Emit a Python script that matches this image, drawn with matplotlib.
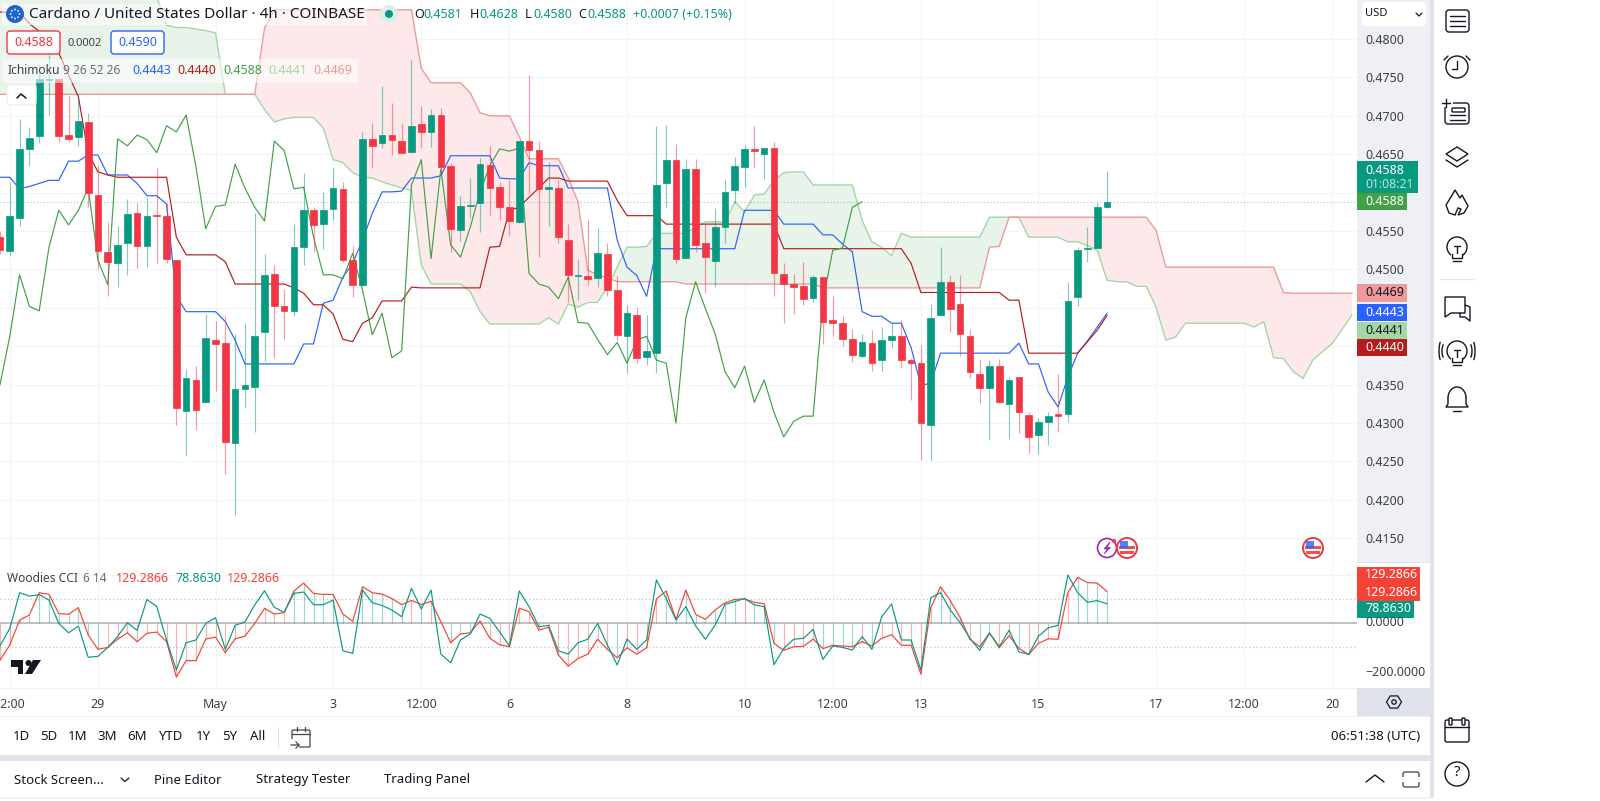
import matplotlib
matplotlib.use("Agg")
import matplotlib.pyplot as plt
import numpy as np
from matplotlib.patches import Circle, FancyBboxPatch, Polygon, Rectangle

plt.rcParams["font.family"] = ["Noto Sans", "DejaVu Sans"]

# candles
open_ = [
    .4542, .4524, .4567, .4657, .4674, .4747, .4748, .4675, .4672, .4692,
    .4597, .4523, .4508, .4534, .4573, .4530, .4571, .4570, .4512, .4316,
    .4356, .4327, .4408, .4404, .4274, .4344, .4347, .4418, .4494, .4452,
    .4446, .4529, .4577, .4559, .4579, .4605, .4512, .4480, .4670, .4665,
    .4675, .4667, .4653, .4689, .4679, .4701, .4635, .4551, .4582, .4587,
    .4636, .4607, .4581, .4562, .4667, .4655, .4605, .4606, .4538, .4492,
    .4492, .4489, .4520, .4473, .4413, .4441, .4386, .4391, .4613, .4643,
    .4515, .4631, .4535, .4511, .4555, .4603, .4634, .4657, .4650, .4658,
    .4494, .4481, .4479, .4463, .4490, .4434, .4430, .4409, .4387, .4404,
    .4382, .4408, .4413, .4382, .4378, .4298, .4441, .4484, .4455, .4413,
    .4364, .4346, .4374, .4325, .4360, .4310, .4284, .4302, .4312, .4312,
    .4464, .4527, .4528, .4581,
]
high = [
    .4550, .4612, .4696, .4685, .4768, .4779, .4748, .4727, .4725, .4704,
    .4636, .4562, .4556, .4592, .4586, .4594, .4632, .4586, .4512, .4370,
    .4374, .4442, .4433, .4441, .4416, .4430, .4573, .4520, .4506, .4474,
    .4559, .4626, .4581, .4601, .4632, .4614, .4530, .4679, .4691, .4739,
    .4717, .4691, .4773, .4713, .4709, .4710, .4639, .4595, .4619, .4645,
    .4661, .4614, .4617, .4667, .4753, .4667, .4640, .4617, .4559, .4514,
    .4566, .4554, .4535, .4492, .4454, .4451, .4441, .4687, .4688, .4663,
    .4644, .4644, .4560, .4580, .4618, .4646, .4662, .4687, .4658, .4666,
    .4508, .4494, .4510, .4493, .4490, .4465, .4439, .4422, .4416, .4421,
    .4425, .4430, .4434, .4385, .4402, .4455, .4529, .4493, .4493, .4422,
    .4383, .4382, .4383, .4360, .4360, .4314, .4306, .4314, .4364, .4484,
    .4529, .4555, .4586, .4628,
]
low = [
    .4520, .4517, .4557, .4635, .4664, .4701, .4666, .4666, .4661, .4581,
    .4500, .4466, .4477, .4493, .4502, .4503, .4509, .4509, .4298, .4257,
    .4291, .4327, .4342, .4234, .4180, .4320, .4288, .4381, .4385, .4408,
    .4440, .4506, .4523, .4527, .4564, .4510, .4464, .4479, .4632, .4658,
    .4649, .4652, .4653, .4658, .4659, .4623, .4523, .4537, .4567, .4549,
    .4571, .4564, .4543, .4560, .4600, .4516, .4557, .4535, .4458, .4460,
    .4480, .4477, .4465, .4408, .4365, .4378, .4376, .4365, .4580, .4508,
    .4515, .4523, .4469, .4477, .4535, .4586, .4607, .4632, .4618, .4465,
    .4430, .4442, .4454, .4457, .4403, .4413, .4400, .4380, .4385, .4368,
    .4368, .4398, .4372, .4330, .4252, .4252, .4441, .4418, .4387, .4359,
    .4325, .4278, .4326, .4279, .4287, .4261, .4260, .4271, .4288, .4301,
    .4452, .4510, .4528, .4580,
]
close = [
    .4525, .4570, .4657, .4671, .4748, .4748, .4674, .4670, .4693, .4600,
    .4524, .4510, .4532, .4572, .4530, .4570, .4570, .4514, .4320, .4359,
    .4317, .4411, .4403, .4275, .4344, .4350, .4413, .4493, .4452, .4446,
    .4529, .4577, .4558, .4577, .4606, .4512, .4480, .4670, .4661, .4675,
    .4669, .4652, .4687, .4679, .4701, .4634, .4553, .4582, .4584, .4637,
    .4606, .4581, .4563, .4667, .4655, .4605, .4607, .4542, .4493, .4493,
    .4488, .4521, .4473, .4415, .4443, .4385, .4394, .4610, .4643, .4514,
    .4631, .4532, .4516, .4555, .4601, .4635, .4657, .4654, .4658, .4495,
    .4481, .4477, .4462, .4490, .4431, .4430, .4409, .4389, .4405, .4378,
    .4408, .4413, .4382, .4378, .4300, .4437, .4484, .4449, .4416, .4367,
    .4346, .4374, .4327, .4356, .4314, .4282, .4302, .4309, .4309, .4459,
    .4525, .4528, .4581, .4588,
]

# ichimoku
conversion = [
    .4620, .4620, .4605, .4608, .4612, .4616, .4616, .4641, .4641, .4649,
    .4649, .4623, .4623, .4623, .4612, .4596, .4596, .4585, .4465, .4445,
    .4445, .4445, .4445, .4432, .4408, .4377, .4377, .4377, .4377, .4377,
    .4377, .4403, .4403, .4456, .4460, .4490, .4508, .4538, .4573, .4601,
    .4601, .4602, .4619, .4619, .4619, .4622, .4648, .4648, .4648, .4648,
    .4648, .4619, .4618, .4618, .4639, .4635, .4635, .4635, .4606, .4606,
    .4606, .4606, .4606, .4538, .4503, .4492, .4465, .4527, .4527, .4527,
    .4527, .4527, .4527, .4527, .4527, .4527, .4577, .4577, .4577, .4577,
    .4559, .4559, .4559, .4559, .4545, .4545, .4533, .4523, .4445, .4439,
    .4439, .4430, .4430, .4398, .4349, .4352, .4391, .4391, .4391, .4391,
    .4391, .4391, .4391, .4391, .4404, .4377, .4377, .4340, .4321, .4360,
    .4391, .4407, .4425, .4443,
]
base_line = [
    .4835, .4835, .4835, .4820, .4810, .4795, .4782, .4753, .4725, .4651,
    .4627, .4623, .4620, .4620, .4620, .4620, .4620, .4620, .4542, .4519,
    .4519, .4519, .4519, .4510, .4481, .4481, .4481, .4481, .4481, .4481,
    .4476, .4469, .4454, .4454, .4442, .4409, .4406, .4430, .4437, .4459,
    .4459, .4459, .4477, .4476, .4476, .4476, .4476, .4476, .4476, .4476,
    .4529, .4530, .4577, .4581, .4594, .4606, .4619, .4619, .4615, .4615,
    .4615, .4615, .4615, .4590, .4570, .4570, .4570, .4570, .4559, .4559,
    .4559, .4559, .4559, .4559, .4559, .4559, .4559, .4559, .4559, .4559,
    .4527, .4527, .4527, .4527, .4527, .4527, .4527, .4527, .4527, .4527,
    .4527, .4527, .4527, .4508, .4470, .4470, .4470, .4470, .4470, .4470,
    .4470, .4470, .4470, .4460, .4460, .4391, .4391, .4391, .4391, .4391,
    .4391, .4406, .4421, .4440,
]
lead_a = [
    .4900, .4900, .4900, .4900, .4900, .4900, .4900, .4900, .4900, .4900,
    .4900, .4895, .4890, .4885, .4880, .4870, .4855, .4818, .4815, .4815,
    .4813, .4811, .4808, .4728, .4728, .4728, .4728, .4708, .4692, .4696,
    .4698, .4698, .4698, .4684, .4643, .4639, .4626, .4620, .4619, .4614,
    .4610, .4606, .4603, .4506, .4481, .4481, .4481, .4481, .4471, .4445,
    .4429, .4429, .4429, .4429, .4429, .4429, .4437, .4429, .4455, .4451,
    .4457, .4457, .4477, .4503, .4529, .4529, .4530, .4547, .4547, .4547,
    .4547, .4555, .4562, .4562, .4562, .4588, .4575, .4597, .4598, .4616,
    .4626, .4627, .4627, .4610, .4610, .4610, .4610, .4610, .4564, .4536,
    .4529, .4518, .4547, .4542, .4542, .4542, .4542, .4542, .4542, .4542,
    .4542, .4568, .4568, .4568, .4568, .4542, .4542, .4542, .4542, .4536,
    .4536, .4531, .4525, .4486, .4484, .4484, .4478, .4478, .4451, .4408,
    .4412, .4430, .4430, .4430, .4430, .4430, .4430, .4430, .4425, .4432,
    .4385, .4384, .4367, .4358, .4382, .4393, .4404, .4422, .4441,
]
lead_b = [
    .4728, .4728, .4728, .4728, .4728, .4728, .4728, .4728, .4728, .4728,
    .4728, .4728, .4728, .4728, .4728, .4728, .4728, .4728, .4728, .4728,
    .4728, .4728, .4728, .4728, .4728, .4728, .4728, .4814, .4838, .4838,
    .4838, .4838, .4838, .4838, .4838, .4838, .4838, .4838, .4838, .4838,
    .4838, .4838, .4838, .4762, .4743, .4743, .4743, .4743, .4730, .4704,
    .4700, .4700, .4700, .4673, .4644, .4644, .4644, .4644, .4619, .4588,
    .4499, .4493, .4489, .4484, .4484, .4484, .4484, .4484, .4484, .4484,
    .4481, .4481, .4481, .4481, .4481, .4481, .4481, .4481, .4481, .4481,
    .4481, .4481, .4481, .4481, .4476, .4476, .4476, .4476, .4476, .4476,
    .4476, .4476, .4476, .4476, .4476, .4476, .4476, .4476, .4476, .4476,
    .4476, .4529, .4530, .4568, .4568, .4568, .4568, .4568, .4568, .4568,
    .4568, .4568, .4568, .4568, .4568, .4568, .4568, .4568, .4551, .4503,
    .4503, .4503, .4503, .4503, .4503, .4503, .4503, .4503, .4503, .4503,
    .4503, .4470, .4469, .4469, .4469, .4469, .4469, .4469, .4469,
]
lag_shift = 25

# woodies cci
cci_fast = [
    -96, -24, 125, 111, 117, 94, -3, -42, -14, -144,
    -140, -103, -58, 0, -32, 97, 67, -72, -197, -83,
    -72, -3, 21, -111, -11, 3, 74, 133, 64, 43,
    122, 128, 75, 75, 94, -117, -128, 136, 83, 72,
    53, 25, 143, 57, 136, -131, -167, -72, -47, 36,
    18, -38, -97, 132, 67, -17, -11, -117, -131, -83,
    -69, -3, -93, -176, -68, -111, -72, 178, 101, 11,
    67, -13, -69, -10, 76, 88, 101, 74, 67, -175,
    -107, -69, -65, -28, -153, -97, -103, -114, -58, -111,
    25, 78, -72, -72, -197, 104, 125, 53, 0, -65,
    -115, -44, -100, -31, -121, -132, -56, -21, -11, 199,
    125, 85, 92, 78.863,
]
cci_slow = [
    -156, -93, 11, 32, 125, 118, 38, 35, 63, -51,
    -111, -103, -69, -42, -79, -44, -39, -79, -226, -158,
    -158, -68, -60, -125, -67, -56, -3, 60, 36, 42,
    132, 165, 122, 118, 118, 36, 6, 150, 125, 119,
    101, 75, 93, 76, 89, 4, -83, -47, -42, 7,
    -65, -92, -100, 61, 46, -31, -19, -135, -181, -149,
    -131, -69, -111, -146, -104, -131, -104, 99, 132, 14,
    136, 35, 14, 53, 83, 97, 99, 85, 79, -86,
    -115, -100, -99, -68, -108, -94, -97, -100, -79, -97,
    -65, -50, -94, -94, -214, 62, 150, 92, 22, -69,
    -100, -42, -104, -54, -107, -132, -86, -67, -69, 126,
    189, 167, 165, 129.2866,
]

price_ticks = [.48, .475, .47, .465, .46, .455, .45, .445, .44, .435, .43, .425, .42, .415]
hidden_ticks = [.46, .445, .44]
cci_ticks = [0, -200]
time_idx = [1, 10, 22, 34, 43, 52, 64, 76, 85, 94, 106, 118, 127, 136]
time_labels = ["12:00", "29", "May", "3", "12:00", "6", "8", "10", "12:00", "13", "15", "17", "12:00", "20"]

UP = "#089981"
DOWN = "#F23645"
CONV = "#2962FF"
BASE = "#B71C1C"
LAG = "#43A047"
A_COL = "#A5D6A7"
B_COL = "#EF9A9A"
CCI_RED = "#F44336"
CCI_TEAL = "#089981"
GRID = "#F3F4F6"
TXT = "#131722"
AXTXT = "#3d4048"
PANEL = "#EFF0F5"
BAND = "#E0E3EB"

W, H = 1600, 801
fig = plt.figure(figsize=(W / 100, H / 100), dpi=100, facecolor="white")


def px_axes(x0, y0, x1, y1, z):
    return fig.add_axes([x0 / W, 1 - y1 / H, (x1 - x0) / W, (y1 - y0) / H], zorder=z)


bg = px_axes(0, 0, W, H, 0)
bg.set_xlim(0, W)
bg.set_ylim(H, 0)
bg.axis("off")
for x0, y0, x1, y1, c in [
    (1357, 0, 1430, 562, PANEL),
    (1357, 688, 1430, 716, "#DFE2EA"),
    (1430, 0, 1434, 797, BAND),
    (0, 562, 1430, 563, BAND),
    (0, 688, 1357, 689, "#F0F1F5"),
    (0, 716, 1430, 717, "#F0F1F5"),
    (0, 755, 1430, 761, BAND),
    (0, 797, 1434, 799, "#F0F1F5"),
]:
    bg.add_patch(Rectangle((x0, y0), x1 - x0, y1 - y0, fc=c, ec="none"))

# price pane
ax = px_axes(0, 0, 1357, 562, 1)
bars = np.arange(len(close))
opens = np.array(open_)
closes = np.array(close)
up = closes >= opens
a = np.array(lead_a)
b = np.array(lead_b)
cloud_x = np.arange(len(a))
ax.fill_between(cloud_x, a, b, where=a >= b, interpolate=True, color="#E8F3E9", lw=0, zorder=1)
ax.fill_between(cloud_x, a, b, where=a < b, interpolate=True, color="#FDE9E9", lw=0, zorder=1)
ax.plot(cloud_x, a, color=A_COL, lw=1, zorder=2)
ax.plot(cloud_x, b, color=B_COL, lw=1, zorder=2)
ax.axhline(close[-1], color=UP, lw=0.8, ls=(0, (1, 2)), alpha=0.45, zorder=2)
ax.plot(bars, conversion, color=CONV, lw=0.85, zorder=3)
ax.plot(bars, base_line, color=BASE, lw=0.85, zorder=3)
ax.plot(bars[:len(close) - lag_shift], close[lag_shift:], color=LAG, lw=0.85, zorder=3)
candle_col = [UP if u else DOWN for u in up]
ax.vlines(bars, low, high, colors=candle_col, lw=0.85, alpha=0.5, zorder=4)
ax.bar(bars, closes - opens, bottom=opens, width=0.68, color=candle_col, edgecolor=candle_col, lw=0.5, zorder=5)

ax.set_xlim(0, 1357 / 9.797)
ax.set_ylim(0.41191, 0.48508)
ax.set_yticks(price_ticks)
# these three sit behind the price labels in the picture
ax.set_yticklabels(["" if p in hidden_ticks else f"{p:.4f}" for p in price_ticks])
ax.yaxis.tick_right()
ax.tick_params(axis="y", length=0, pad=6, labelsize=9, labelcolor=AXTXT)
ax.set_xticks(time_idx)
ax.tick_params(axis="x", length=0, labelbottom=False)
ax.grid(True, color=GRID, lw=0.8)
ax.set_axisbelow(True)
for s in ax.spines.values():
    s.set_visible(False)

# cci pane
cx = px_axes(0, 562, 1357, 688, 1)
fast = np.array(cci_fast)
slow = np.array(cci_slow)
hist_col = [CCI_TEAL if s > f else CCI_RED for s, f in zip(slow, fast)]
cx.vlines(bars, 0, slow, colors=hist_col, lw=0.85, alpha=0.4, zorder=2)
cx.axhline(0, color="#B2B5BE", lw=1.2, zorder=1)
cx.axhline(100, color="#C4C6CC", lw=0.9, ls=(0, (1, 2)), zorder=1)
cx.axhline(-100, color="#C4C6CC", lw=0.9, ls=(0, (1, 2)), zorder=1)
cx.plot(bars, slow, color=CCI_RED, lw=0.85, zorder=3)
cx.plot(bars, fast, color=CCI_TEAL, lw=0.85, zorder=3)
cx.set_xlim(0, 1357 / 9.797)
cx.set_ylim(-272, 252.9)
cx.set_yticks(cci_ticks)
cx.set_yticklabels(["", "\u2212200.0000"])
cx.yaxis.tick_right()
cx.tick_params(axis="y", length=0, pad=6, labelsize=9, labelcolor=AXTXT)
cx.set_yticks([200, -200], minor=True)
cx.tick_params(axis="y", which="minor", length=0)
cx.set_xticks(time_idx)
cx.set_xticklabels(time_labels)
cx.get_xticklabels()[2].set_fontweight("bold")
cx.tick_params(axis="x", length=0, pad=7, labelsize=9, labelcolor=AXTXT)
cx.grid(True, axis="x", color=GRID, lw=0.8)
cx.grid(True, axis="y", which="minor", color=GRID, lw=0.8)
cx.set_axisbelow(True)
for s in cx.spines.values():
    s.set_visible(False)

# everything around the panes, in pixels
ui = px_axes(0, 0, W, H, 3)
ui.set_xlim(0, W)
ui.set_ylim(H, 0)
ui.axis("off")
ui.patch.set_alpha(0)


def txt(x, y, s, color=TXT, size=9, ha="left", **kw):
    ui.text(x, y, s, color=color, fontsize=size, ha=ha, va="center", **kw)


def box(x0, y0, x1, y1, fc="white", ec="none", lw=1, r=2, alpha=None, zorder=1):
    ui.add_patch(FancyBboxPatch((x0 + r, y0 + r), x1 - x0 - 2 * r, y1 - y0 - 2 * r,
                                boxstyle=f"round,pad={r}", fc=fc, ec=ec, lw=lw, alpha=alpha, zorder=zorder))


def line(xs, ys, color=TXT, lw=1.0):
    ui.plot(xs, ys, color=color, lw=lw, solid_capstyle="round")


def circ(x, y, r, fc="none", ec=TXT, lw=1.0, zorder=2):
    ui.add_patch(Circle((x, y), r, fc=fc, ec=ec, lw=lw, zorder=zorder))


# header
box(2, 4, 367, 25, fc="white", alpha=0.55, r=1)
box(2, 59, 358, 83, fc="white", alpha=0.55, r=1)
circ(15, 14, 9, fc="#1E62D0", ec="none")
for ang in np.arange(0, 2 * np.pi, np.pi / 4):
    circ(15 + 4.5 * np.cos(ang), 14 + 4.5 * np.sin(ang), 1, fc="#cfe0fa", ec="none", zorder=3)
txt(29, 14, "Cardano / United States Dollar \u00b7 4h \u00b7 COINBASE", size=11)
circ(389, 14, 9, fc="#DCEFEB", ec="none")
circ(389, 14, 4, fc=UP, ec="none", zorder=3)
for x, k, v in [(414, "O", "0.4581"), (470, "H", "0.4628"), (525, "L", "0.4580"), (578, "C", "0.4588")]:
    txt(x, 14, k, size=9)
    txt(x + (9 if k != "L" else 8), 14, v, color=UP, size=9)
txt(633, 14, "+0.0007 (+0.15%)", color=UP, size=9)

box(7, 31, 60, 54, ec="#F23645", r=3)
txt(33.5, 43, "0.4588", color=DOWN, ha="center")
txt(85, 43, "0.0002", color=AXTXT, size=8, ha="center")
box(111, 31, 164, 54, ec="#2962FF", r=3)
txt(137.5, 43, "0.4590", color=CONV, ha="center")

txt(7, 71, "Ichimoku", color=AXTXT, size=8.6)
txt(63, 71, "9 26 52 26", color="#6a6d78", size=8.6)
for x, v, c in [(132, "0.4443", CONV), (177, "0.4440", BASE), (223, "0.4588", LAG), (268, "0.4441", A_COL), (313, "0.4469", B_COL)]:
    txt(x, 71, v, color=c)
box(7, 85, 36, 105, ec="#F0F1F5", r=3)
line([17, 21, 26], [98, 94, 98], lw=1.1)

txt(7, 579, "Woodies CCI", color=AXTXT, size=8.6)
txt(83, 579, "6 14", color="#6a6d78", size=8.6)
txt(116, 579, "129.2866", color=CCI_RED)
txt(175, 579, "78.8630", color=CCI_TEAL)
txt(227, 579, "129.2866", color=CCI_RED)

# tv logo
ui.add_patch(Polygon([(11, 660), (23, 660), (23, 674), (18, 674), (18, 666.5), (11, 666.5)], fc=TXT, ec="none"))
circ(28.5, 663, 3, fc=TXT, ec="none")
ui.add_patch(Polygon([(33, 660), (41, 660), (32, 674), (25, 674)], fc=TXT, ec="none"))

# price axis boxes
box(1362, 2, 1426, 26, r=4)
txt(1365, 14, "USD", size=8)
line([1416, 1419, 1422], [13, 16, 13], lw=0.9)

for y0, y1, x1, c, tc, s in [
    (193, 210, 1407, LAG, "white", "0.4588"),
    (284, 302, 1407, B_COL, TXT, "0.4469"),
    (304, 321, 1407, CONV, "white", "0.4443"),
    (322, 339, 1407, A_COL, TXT, "0.4441"),
    (339, 356, 1407, BASE, "white", "0.4440"),
]:
    ui.add_patch(Rectangle((1357, y0), x1 - 1357, y1 - y0, fc=c, ec="none"))
    txt(1365, (y0 + y1) / 2, s, color=tc)
ui.add_patch(Rectangle((1357, 161), 61, 32, fc=UP, ec="none"))
txt(1365, 170, "0.4588", color="white")
txt(1365, 184, "01:08:21", color="#BFE3DB", size=8.8)

ui.add_patch(Rectangle((1357, 567), 63, 34, fc=CCI_RED, ec="none"))
ui.add_patch(Rectangle((1357, 601), 57, 17, fc=CCI_TEAL, ec="none"))
txt(1365, 575, "129.2866", color="white")
txt(1365, 592, "129.2866", color="white")
txt(1365, 609, "78.8630", color="white")
txt(1365, 623, "0.0000", color=AXTXT)

# settings hexagon
hx = 1394 + 7.5 * np.cos(np.arange(6) * np.pi / 3)
hy = 702 + 7 * np.sin(np.arange(6) * np.pi / 3)
ui.add_patch(Polygon(np.c_[hx, hy], closed=True, fc="none", ec=TXT, lw=0.9))
circ(1394, 702, 2.2, lw=0.9)

# events
circ(1107, 548, 9.5, fc="white", ec="#9C27B0", lw=1.2)
ui.add_patch(Polygon([(1110, 542), (1104, 549), (1107.5, 549), (1104, 554), (1110.5, 547.5), (1107, 547.5)], fc="#9C27B0", ec="#9C27B0", lw=0.5, zorder=3))
circ(1114, 541, 2, fc=DOWN, ec="none", zorder=4)
for fx in [1127, 1313]:
    circ(fx, 548, 10, fc="white", ec=DOWN, lw=1.4)
    ui.add_patch(Rectangle((fx - 8, 546), 16, 2.5, fc="#EF5350", ec="none", zorder=3))
    ui.add_patch(Rectangle((fx - 7, 551), 14, 2.5, fc="#EF5350", ec="none", zorder=3))
    ui.add_patch(Rectangle((fx - 7, 541), 8, 7, fc="#2962FF", ec="none", alpha=0.8, zorder=4))

# bottom toolbars
for x, s in [(21, "1D"), (49, "5D"), (78, "1M"), (107, "3M"), (137, "6M"), (170, "YTD"), (203, "1Y"), (230, "5Y"), (258, "All")]:
    txt(x, 737, s, ha="center", size=9.5)
line([277.5, 277.5], [727, 747], color=BAND, lw=0.9)
box(292, 730, 310, 747, fc="none", ec="#42454f", lw=0.9, r=1)
line([292, 310], [733.5, 733.5], color="#42454f", lw=0.9)
line([297, 297], [727, 731], color="#42454f", lw=0.9)
line([305, 305], [727, 731], color="#42454f", lw=0.9)
ui.add_patch(Rectangle((289, 739), 10, 10, fc="white", ec="none", zorder=3))
ui.plot([291, 299, 296], [745, 745, 742], color="#42454f", lw=0.9, zorder=4)
ui.plot([299, 296], [745, 748], color="#42454f", lw=0.9, zorder=4)
txt(1420, 737, "06:51:38 (UTC)", ha="right", size=9.5)

txt(14, 780, "Stock Screen...", size=9.5)
line([121, 125, 129], [778, 781.5, 778], lw=0.9)
txt(154, 780, "Pine Editor", size=9.5)
txt(256, 780, "Strategy Tester", size=9.5)
txt(384, 780, "Trading Panel", size=9.5)
line([1366, 1375, 1384], [782, 775, 782], lw=1)
box(1403, 772, 1419, 787, fc="none", ec=AXTXT, lw=0.9, r=2)
ui.add_patch(Rectangle((1400, 777), 22, 5, fc="white", ec="none", zorder=3))

# right toolbar
ICX = 1457
box(ICX - 11, 10, ICX + 12, 32, fc="none", ec=TXT, r=3)
for y in [16, 21, 26]:
    line([ICX - 7, ICX + 8], [y, y])
circ(ICX, 67, 11)
line([ICX, ICX, ICX - 5], [61, 69, 69])
line([ICX - 13, ICX - 9], [60, 56])
line([ICX + 13, ICX + 9], [60, 56])
box(ICX - 12, 103, ICX + 12, 124, fc="none", ec=TXT, r=3)
ui.add_patch(Rectangle((ICX - 16, 98), 12, 9, fc="white", ec="none", zorder=3))
ui.plot([ICX - 15, ICX - 7], [103, 103], color=TXT, lw=1, zorder=4)
ui.plot([ICX - 11, ICX - 11], [99, 107], color=TXT, lw=1, zorder=4)
box(ICX - 5, 108, ICX + 8, 112, fc="none", ec=TXT, r=1)
line([ICX - 7, ICX + 8], [115, 115])
line([ICX - 7, ICX + 8], [120, 120])
ui.add_patch(Polygon([(ICX - 11, 154), (ICX, 147), (ICX + 11, 154), (ICX, 161)], fc="none", ec=TXT, lw=1))
line([ICX - 11, ICX, ICX + 11], [160, 167, 160])
ui.add_patch(Polygon([(ICX - 2, 190), (ICX + 3, 198), (ICX + 5, 195), (ICX + 11, 206), (ICX + 7, 213), (ICX + 1, 215),
                      (ICX + 4, 209), (ICX + 1, 208), (ICX - 2, 215), (ICX - 8, 213), (ICX - 11, 205), (ICX - 6, 197)],
                     fc="none", ec=TXT, lw=1))
for cy in [247, 351]:
    circ(ICX, cy, 10)
    ui.add_patch(Rectangle((ICX - 6, cy + 7), 12, 7, fc="white", ec="none", zorder=3))
    ui.plot([ICX - 5, ICX - 5, ICX + 5, ICX + 5], [cy + 7, cy + 11, cy + 11, cy + 7], color=TXT, lw=1, zorder=4)
    ui.plot([ICX - 4, ICX + 4], [cy + 14, cy + 14], color=TXT, lw=1, zorder=4)
    line([ICX - 3, ICX + 3], [cy - 1, cy - 1])
    line([ICX, ICX], [cy - 1, cy + 7])
line([ICX - 17, ICX + 17], [279, 279], color=BAND)
ui.add_patch(Polygon([(ICX - 12, 297), (ICX + 8, 297), (ICX + 8, 313), (ICX - 6, 313), (ICX - 12, 317)], fc="none", ec=TXT, lw=1))
line([ICX + 8, ICX + 13, ICX + 13, ICX + 8, ICX + 3, ICX + 3], [305, 307, 321, 317, 317, 313])
for sgn in [-1, 1]:
    for d, hh in [(14, 8), (17, 11)]:
        t = np.linspace(-0.9, 0.9, 12)
        line(ICX + sgn * (d - 2 + 3 * np.cos(t)), 351 + hh * np.sin(t))
t = np.linspace(np.pi, 2 * np.pi, 20)
line(ICX + 9 * np.cos(t), 398 + 11 * np.sin(t))
line([ICX - 9, ICX - 9, ICX - 11, ICX + 11, ICX + 9, ICX + 9], [398, 404, 407, 407, 404, 398])
line([ICX - 4, ICX + 4], [411, 411])
box(ICX - 12, 720, ICX + 12, 742, fc="none", ec=TXT, r=2)
line([ICX - 12, ICX + 12], [727, 727])
box(ICX - 8, 718, ICX - 5, 725, fc="white", ec=TXT, r=1, zorder=3)
box(ICX + 5, 718, ICX + 8, 725, fc="white", ec=TXT, r=1, zorder=3)
circ(ICX, 774, 12)
txt(ICX, 773, "?", ha="center", size=11)

fig.savefig("out.png", dpi=100)
